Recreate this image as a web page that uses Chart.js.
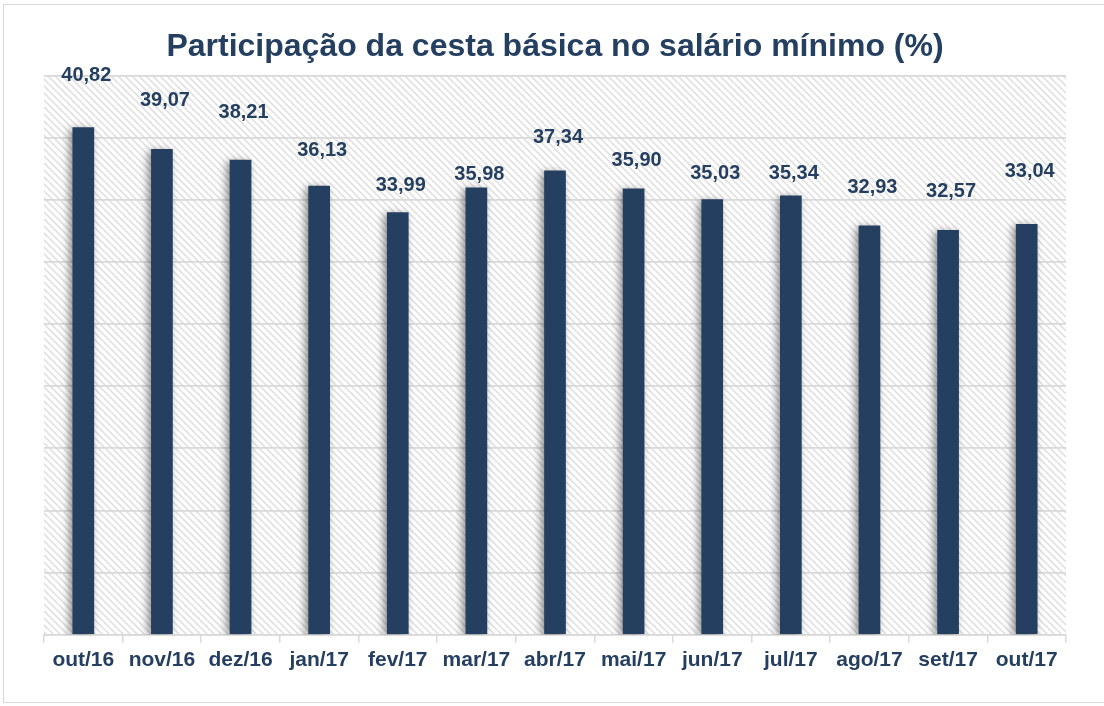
<!DOCTYPE html>
<html>
<head>
<meta charset="utf-8">
<script src="https://cdn.jsdelivr.net/npm/chart.js@4/dist/chart.umd.min.js"></script>
<style>
  html, body { margin: 0; padding: 0; background: #ffffff; overflow: hidden; }
  #wrap { position: absolute; left: 0; top: 0; width: 1104px; height: 706px; }
  #frame { position: absolute; left: 3px; top: 4px; width: 1110px; height: 699px; border: 1.5px solid #d9d9d9; box-sizing: border-box; }
  canvas { position: absolute; left: 0; top: 0; }
</style>
</head>
<body>
<div id="wrap">
  <div id="frame"></div>
  <canvas id="c" width="1104" height="706"></canvas>
</div>
<script>
const categories = ["out/16","nov/16","dez/16","jan/17","fev/17","mar/17","abr/17","mai/17","jun/17","jul/17","ago/17","set/17","out/17"];
const values = [40.82, 39.07, 38.21, 36.13, 33.99, 35.98, 37.34, 35.90, 35.03, 35.34, 32.93, 32.57, 33.04];
const valueLabels = ["40,82","39,07","38,21","36,13","33,99","35,98","37,34","35,90","35,03","35,34","32,93","32,57","33,04"];
// vertical gap (px) between bar top and its value label, as placed in the original
const labelRaise = [52, 49, 47, 35, 27, 13, 33, 28, 26, 22, 38, 38, 53];

const navy = "#253F60";

function makeHatch() {
  const s = 7;
  const p = document.createElement("canvas");
  p.width = s; p.height = s;
  const g = p.getContext("2d");
  g.fillStyle = "#ffffff";
  g.fillRect(0, 0, s, s);
  g.strokeStyle = "#dedede";
  g.lineWidth = 1.5;
  g.beginPath();
  g.moveTo(-1, -1); g.lineTo(s + 1, s + 1);
  g.moveTo(-1, s - 1); g.lineTo(1, s + 1);
  g.moveTo(s - 1, -1); g.lineTo(s + 1, 1);
  g.stroke();
  return p;
}

const hatchBg = {
  id: "hatchBg",
  beforeDraw(chart) {
    const { ctx, chartArea: a } = chart;
    ctx.save();
    ctx.fillStyle = ctx.createPattern(makeHatch(), "repeat");
    ctx.fillRect(a.left, a.top, a.right - a.left, a.bottom - a.top);
    ctx.restore();
  }
};

const barShadow = {
  id: "barShadow",
  beforeDatasetsDraw(chart) {
    const ctx = chart.ctx;
    ctx.save();
    ctx.shadowColor = "rgba(0,0,0,0.45)";
    ctx.shadowBlur = 8;
    ctx.shadowOffsetX = -3;
    ctx.shadowOffsetY = 2;
  },
  afterDatasetsDraw(chart) {
    chart.ctx.restore();
  }
};

const valueLabelPlugin = {
  id: "valueLabelPlugin",
  afterDatasetsDraw(chart) {
    const ctx = chart.ctx;
    const meta = chart.getDatasetMeta(0);
    ctx.save();
    ctx.font = "bold 20px 'Liberation Sans', Arial, sans-serif";
    ctx.fillStyle = navy;
    ctx.textAlign = "center";
    ctx.textBaseline = "middle";
    meta.data.forEach((bar, i) => {
      ctx.fillText(valueLabels[i], bar.x + 3, bar.y - labelRaise[i]);
    });
    ctx.restore();
  }
};

new Chart(document.getElementById("c"), {
  type: "bar",
  data: {
    labels: categories,
    datasets: [{
      data: values,
      backgroundColor: navy,
      borderWidth: 0,
      categoryPercentage: 1.0,
      barPercentage: 0.276
    }]
  },
  options: {
    responsive: false,
    animation: false,
    devicePixelRatio: 1,
    layout: { padding: { left: 44, right: 38, top: 10, bottom: 28 } },
    plugins: {
      legend: { display: false },
      tooltip: { enabled: false },
      title: {
        display: true,
        text: "Participação da cesta básica no salário mínimo (%)",
        color: "#243F60",
        font: { family: "'Liberation Sans', Arial, sans-serif", size: 32, weight: "bold" },
        padding: { top: 18, bottom: 9 }
      }
    },
    scales: {
      x: {
        offset: true,
        grid: { display: true, drawOnChartArea: false, offset: true, tickLength: 8, color: "#d9d9d9", lineWidth: 1.5 },
        border: { display: true, color: "#d9d9d9", width: 1.5 },
        ticks: {
          color: navy,
          padding: 5,
          font: { family: "'Liberation Sans', Arial, sans-serif", size: 21, weight: "bold" }
        }
      },
      y: {
        min: 0, max: 45,
        ticks: { display: false, stepSize: 5 },
        grid: { color: "#d9d9d9", lineWidth: 1.8, drawTicks: false },
        border: { display: false }
      }
    }
  },
  plugins: [hatchBg, barShadow, valueLabelPlugin]
});
</script>
</body>
</html>
